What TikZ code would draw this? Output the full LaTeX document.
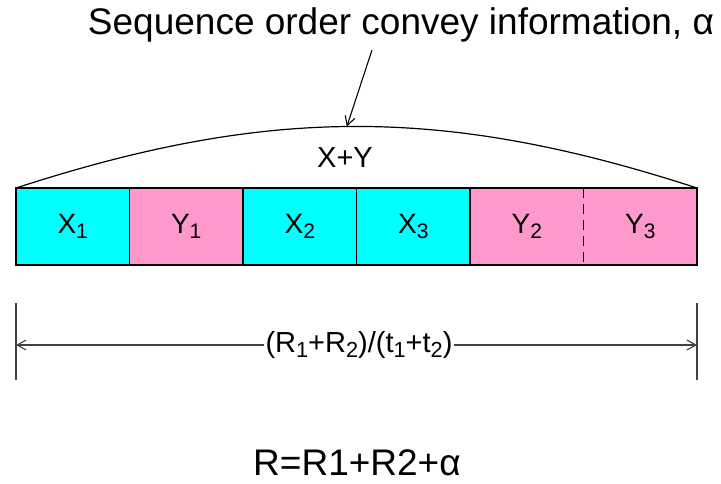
\documentclass[tikz,border=0pt]{standalone}
\usepackage{fontspec}
\setmainfont{Liberation Sans}
\usetikzlibrary{arrows.meta,positioning}
\definecolor{cellcyan}{RGB}{0,255,255}
\definecolor{cellpink}{RGB}{255,153,204}
\newcommand{\sbs}[1]{\raisebox{-0.3ex}{\fontsize{0.75em}{1em}\selectfont #1}}

\begin{document}
\begin{tikzpicture}[
  x=1pt, y=1pt,
  node distance=0pt,
  cell/.style={rectangle, inner sep=0pt, outer sep=0pt,
    minimum width=113.5pt, minimum height=77pt,
    text centered, font=\fontsize{28}{30}\selectfont},
  txt/.style={inner sep=1pt, font=\fontsize{29}{32}\selectfont},
  big/.style={inner sep=0pt, font=\fontsize{37}{40}\selectfont},
  arrow/.style={-{Straight Barb[length=9pt,width=10pt]}, line width=1.1pt},
  dim/.style={line width=1.5pt, draw=black!75}
]
\useasboundingbox (0,0) rectangle (721,483);

% the packet: cells of X and Y
\node[cell, fill=cellcyan] (x1) at (72.75,256.5) {X\sbs{1}};
\node[cell, fill=cellpink, right=of x1] (y1) {Y\sbs{1}};
\node[cell, fill=cellcyan, right=of y1] (x2) {X\sbs{2}};
\node[cell, fill=cellcyan, right=of x2] (x3) {X\sbs{3}};
\node[cell, fill=cellpink, right=of x3] (y2) {Y\sbs{2}};
\node[cell, fill=cellpink, right=of y2] (y3) {Y\sbs{3}};

\foreach \c in {x1,y1,x2,x3} { \draw[line width=1.2pt] (\c.north east) -- (\c.south east); }
\draw[line width=1.4pt, dash pattern=on 10pt off 6pt] (y2.north east) -- (y2.south east);
\draw[line width=2.4pt] (x1.north west) rectangle (y3.south east);

% span of X+Y and the order information
\draw[line width=1.2pt] (x1.north west) to[bend left=18] coordinate[pos=0.485] (peak) (y3.north east);
\node[txt] (xy) at (345,325) {X+Y};
\node[big] (title) at (401,458) {Sequence order convey information, α};
\coordinate (tail) at (372,433);
\draw[arrow] (tail) -- (peak);

% rate dimension
\coordinate (tl) at (16,180);
\coordinate (bl) at (16,103);
\coordinate (tr) at (697,180);
\coordinate (br) at (697,103);
\coordinate (dl) at (16,138);
\coordinate (dr) at (697,138);
\draw[dim] (tl) -- (bl);
\draw[dim] (tr) -- (br);
\node[txt] (rate) at (359,138) {(R\sbs{1}+R\sbs{2})/(t\sbs{1}+t\sbs{2})};
\draw[dim, arrow, draw=black!75] (rate.west) -- (dl);
\draw[dim, arrow, draw=black!75] (rate.east) -- (dr);

\node[big] (sum) at (357,20) {R=R1+R2+α};
\end{tikzpicture}
\end{document}
